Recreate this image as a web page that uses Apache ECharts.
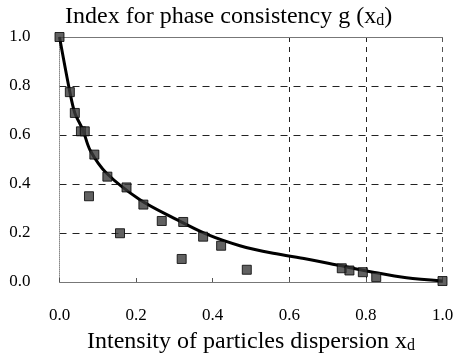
<!DOCTYPE html>
<html>
<head>
<meta charset="utf-8">
<script src="https://cdn.jsdelivr.net/npm/echarts@6/dist/echarts.min.js"></script>
<style>
  html, body { margin: 0; padding: 0; background: #fff; }
  #chart { width: 457px; height: 359px; }
</style>
</head>
<body>
<div id="chart"></div>
<script>
// Fitted curve of g(x_d)
const curveX = [0, 0.027, 0.040, 0.061, 0.080, 0.123, 0.210, 0.297, 0.384, 0.471, 0.558, 0.645, 0.732, 0.819, 0.906, 1.0];
const curveY = [1.0, 0.776, 0.690, 0.621, 0.538, 0.444, 0.336, 0.262, 0.195, 0.148, 0.117, 0.094, 0.067, 0.040, 0.017, 0.004];

// Measured points
const pointX = [0, 0.027, 0.040, 0.056, 0.066, 0.077, 0.091, 0.125, 0.158, 0.175, 0.219, 0.267, 0.319, 0.323, 0.375, 0.422, 0.489, 0.737, 0.757, 0.792, 0.827, 1.0];
const pointY = [1.0, 0.775, 0.690, 0.615, 0.615, 0.350, 0.520, 0.430, 0.199, 0.386, 0.316, 0.249, 0.094, 0.245, 0.185, 0.148, 0.050, 0.056, 0.047, 0.040, 0.020, 0.004];

const xTicks = ['0.0', '0.2', '0.4', '0.6', '0.8', '1.0'];
const yTicks = ['0.0', '0.2', '0.4', '0.6', '0.8', '1.0'];

const serif = '"Liberation Serif", "DejaVu Serif", serif';
const subStyle = { fontFamily: serif, fontSize: 16, color: '#000', verticalAlign: 'bottom', padding: [7, 0, 0, 0] };

const chart = echarts.init(document.getElementById('chart'), null, { renderer: 'canvas' });

chart.setOption({
  animation: false,
  backgroundColor: '#fff',
  title: {
    text: 'Index for phase consistency g (x{sub|d})',
    left: 60,
    top: 0,
    textStyle: {
      fontFamily: serif,
      fontSize: 24,
      fontWeight: 'normal',
      color: '#000',
      rich: { sub: subStyle }
    }
  },
  grid: { left: 59.5, right: 14.5, top: 37, bottom: 74 },
  xAxis: [{
    type: 'value',
    min: 0, max: 1, interval: 0.2,
    axisLine: { show: true, lineStyle: { color: '#777', width: 1 } },
    axisTick: { show: true, inside: true, length: 4, lineStyle: { color: '#555' } },
    axisLabel: {
      margin: 25,
      fontFamily: serif, fontSize: 17, color: '#000',
      formatter: (v) => xTicks[Math.round(v / 0.2)]
    },
    splitLine: {
      show: true,
      lineStyle: { type: [5, 5], width: 1, color: ['transparent', 'transparent', 'transparent', '#222', '#222', '#555'] }
    },
    name: 'Intensity of particles dispersion x{sub|d}',
    nameLocation: 'middle',
    nameGap: 48,
    nameTextStyle: {
      fontFamily: serif, fontSize: 24, color: '#000',
      rich: { sub: subStyle }
    }
  }, {
    type: 'value',
    position: 'top',
    min: 0, max: 1,
    axisLine: { show: true, lineStyle: { color: '#777', width: 1 } },
    axisTick: { show: false },
    axisLabel: { show: false },
    splitLine: { show: false }
  }],
  yAxis: {
    type: 'value',
    min: 0, max: 1, interval: 0.2,
    axisLine: { show: true, lineStyle: { color: '#888', width: 1, type: [1, 1] } },
    axisTick: { show: false },
    axisLabel: {
      margin: 29,
      fontFamily: serif, fontSize: 17, color: '#000',
      formatter: (v) => yTicks[Math.round(v / 0.2)]
    },
    splitLine: {
      show: true,
      lineStyle: { type: [7, 6], width: 1, color: ['transparent', '#222', '#222', '#222', '#222', 'transparent'] }
    }
  },
  series: [{
    type: 'line',
    data: curveX.map((x, i) => [x, curveY[i]]),
    smooth: 0.3,
    showSymbol: false,
    lineStyle: { color: '#000', width: 3 },
    z: 3
  }, {
    type: 'scatter',
    data: pointX.map((x, i) => [x, pointY[i]]),
    symbol: 'rect',
    symbolSize: 9,
    itemStyle: { color: '#3a3a3a', borderColor: '#000', borderWidth: 1 },
    z: 4
  }]
});
</script>
</body>
</html>
